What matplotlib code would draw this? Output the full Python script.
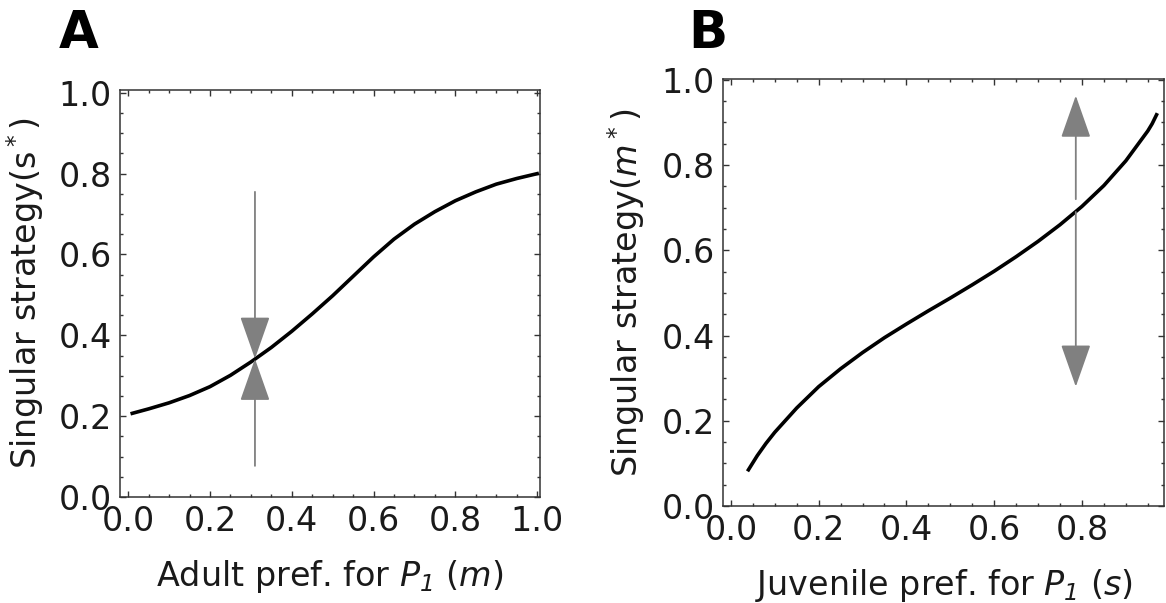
import numpy as np
import matplotlib
matplotlib.use('Agg')
import matplotlib.pyplot as plt
from matplotlib.ticker import MultipleLocator, FormatStrFormatter

plt.rcParams['font.family'] = 'DejaVu Sans'
plt.rcParams['mathtext.fontset'] = 'custom'
plt.rcParams['mathtext.rm'] = 'DejaVu Sans'
plt.rcParams['mathtext.it'] = 'DejaVu Sans:italic'
plt.rcParams['mathtext.sf'] = 'DejaVu Sans:italic'  # italic digits for the subscript

# Panel A: singular strategy s* vs adult preference m
m_vals = [0.01, 0.05, 0.10, 0.15, 0.20, 0.25, 0.30, 0.35, 0.40, 0.45, 0.50,
          0.55, 0.60, 0.65, 0.70, 0.75, 0.80, 0.85, 0.90, 0.95, 1.00]
s_star = [0.207, 0.218, 0.233, 0.251, 0.273, 0.301, 0.334, 0.370, 0.410, 0.453, 0.498,
          0.546, 0.594, 0.638, 0.675, 0.706, 0.733, 0.755, 0.774, 0.788, 0.800]

# Panel B: singular strategy m* vs juvenile preference s
s_vals = [0.04, 0.06, 0.08, 0.10, 0.15, 0.20, 0.25, 0.30, 0.35, 0.40, 0.45, 0.50,
          0.55, 0.60, 0.65, 0.70, 0.75, 0.80, 0.85, 0.90, 0.95, 0.96, 0.97]
m_star = [0.085, 0.118, 0.147, 0.173, 0.230, 0.280, 0.322, 0.360, 0.395, 0.427, 0.458, 0.488,
          0.519, 0.551, 0.585, 0.621, 0.660, 0.703, 0.752, 0.810, 0.880, 0.897, 0.918]

# arrows: (x, tail y, tip y)
arrows_a = [(0.31, 0.755, 0.342), (0.31, 0.077, 0.342)]
arrows_b = [(0.786, 0.72, 0.963), (0.786, 0.69, 0.28)]

fig = plt.figure(figsize=(11.66, 6.03), dpi=100)
W, H = 1166, 603
axA = fig.add_axes([120 / W, 1 - 497 / H, 420 / W, 407 / H])
axB = fig.add_axes([723 / W, 1 - 506 / H, 441 / W, 427 / H])

gray = '#808080'


def style(ax):
    ax.xaxis.set_major_locator(MultipleLocator(0.2))
    ax.xaxis.set_minor_locator(MultipleLocator(0.05))
    ax.yaxis.set_major_locator(MultipleLocator(0.2))
    ax.yaxis.set_minor_locator(MultipleLocator(0.05))
    ax.xaxis.set_major_formatter(FormatStrFormatter('%.1f'))
    ax.yaxis.set_major_formatter(FormatStrFormatter('%.1f'))
    ax.tick_params(which='both', direction='in', top=True, right=True,
                   color='#333333', width=1.0)
    ax.tick_params(which='major', length=4.5, labelsize=24, pad=6,
                   labelcolor='#1a1a1a')
    ax.tick_params(which='minor', length=2.5)
    for sp in ax.spines.values():
        sp.set_color('#333333')
        sp.set_linewidth(1.1)


def arrow(ax, x, y0, y1):
    ax.annotate('', xy=(x, y1), xytext=(x, y0),
                arrowprops=dict(arrowstyle='-|>,head_length=2.7,head_width=0.95',
                                mutation_scale=10, color=gray, lw=1.3,
                                shrinkA=0, shrinkB=0))


style(axA)
axA.plot(m_vals, s_star, color='black', lw=2.6)
for x, y0, y1 in arrows_a:
    arrow(axA, x, y0, y1)
axA.set_xlim(-0.02, 1.007)
axA.set_ylim(0, 1.007)
axA.set_xlabel('Adult pref. for $P_\\mathsf{1}$ ($m$)', fontsize=24, labelpad=14,
               color='#1a1a1a')
axA.set_ylabel('Singular strategy(s$^*$)', fontsize=24, labelpad=9, color='#1a1a1a')

style(axB)
axB.plot(s_vals, m_star, color='black', lw=2.6)
for x, y0, y1 in arrows_b:
    arrow(axB, x, y0, y1)
axB.set_xlim(-0.018, 0.987)
axB.set_ylim(0, 1.002)
axB.set_xlabel('Juvenile pref. for $P_\\mathsf{1}$ ($s$)', fontsize=24, labelpad=14,
               color='#1a1a1a')
axB.set_ylabel('Singular strategy($m^*$)', fontsize=24, labelpad=10, color='#1a1a1a')

fig.text(59 / W, 1 - 48 / H, 'A', fontsize=37, fontweight='bold', va='baseline')
fig.text(688 / W, 1 - 48 / H, 'B', fontsize=37, fontweight='bold', va='baseline')

fig.savefig('out.png', dpi=100, facecolor='white')
